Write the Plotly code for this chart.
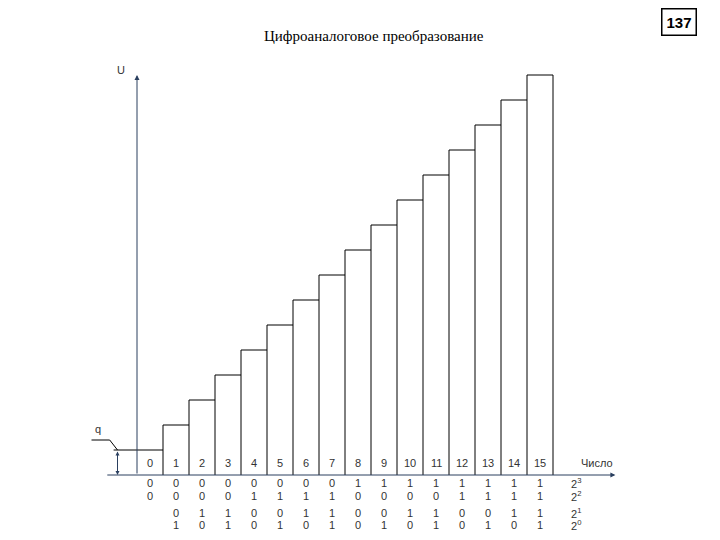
import plotly.graph_objects as go

# DAC: number -> output level (in units of q)
numbers = list(range(16))
levels = [n + 1 for n in numbers]
bits = [[(n >> b) & 1 for b in (3, 2, 1, 0)] for n in numbers]
bit_labels = ["2<sup>3</sup>", "2<sup>2</sup>", "2<sup>1</sup>", "2<sup>0</sup>"]

W, H = 704, 524   # page has an 8px body margin
PX = 26.0   # pixels per column
PY = 25.0   # pixels per q
X0, Y0 = 129, 467

fig = go.Figure()

# staircase: horizontal tops and vertical boundaries
xs, ys = [], []
for n, lv in zip(numbers, levels):
    xs += [n, n + 1, None]
    ys += [lv, lv, None]
for i in range(1, 17):
    left = levels[i - 1]
    right = levels[i] if i < 16 else 0
    xs += [i, i, None]
    ys += [0, max(left, right), None]
fig.add_trace(go.Scatter(x=xs, y=ys, mode="lines", line=dict(color="black", width=1),
                         hoverinfo="skip", showlegend=False))
fig.add_trace(go.Scatter(x=[-0.9, 0], y=[levels[0], levels[0]], mode="lines",
                         line=dict(color="black", width=1), showlegend=False))

# axes with arrows
fig.add_annotation(x=0, y=16.0, ax=0, ay=0, xref="x", yref="y", axref="x", ayref="y",
                   showarrow=True, arrowhead=2, arrowsize=1, arrowwidth=1, text="")
fig.add_annotation(x=18.4, y=0, ax=-1.2, ay=0, xref="x", yref="y", axref="x", ayref="y",
                   showarrow=True, arrowhead=2, arrowsize=1, arrowwidth=1, text="")
# q dimension
fig.add_annotation(x=-0.75, y=0, ax=-0.75, ay=levels[0], xref="x", yref="y", axref="x", ayref="y",
                   showarrow=True, arrowhead=2, arrowside="end+start", arrowsize=0.8,
                   arrowwidth=1, text="")
fig.add_trace(go.Scatter(x=[-1.75, -1.05, -0.75], y=[1.4, 1.4, 1.0], mode="lines",
                         line=dict(color="black", width=1), showlegend=False))

font = dict(family="Arial", size=11, color="#333")
rows = [-0.3, -0.85, -1.5, -2.0]
for n in numbers:
    fig.add_annotation(x=n + 0.5, y=0.5, text=str(n), showarrow=False, font=font)
    for k, yb in enumerate(rows):
        if n == 0 and k >= 2:
            continue
        fig.add_annotation(x=n + 0.5, y=yb, text=str(bits[n][k]), showarrow=False, font=font)
for k, yb in enumerate(rows):
    fig.add_annotation(x=16.9, y=yb, text=bit_labels[k], showarrow=False, font=font)
fig.add_annotation(x=17.7, y=0.5, text="Число", showarrow=False, font=font)
fig.add_annotation(x=-0.6, y=16.2, text="U", showarrow=False, font=font)
fig.add_annotation(x=-1.5, y=1.85, text="q", showarrow=False, font=font)

fig.add_annotation(x=0.52, y=0.965, xref="paper", yref="paper",
                   text="Цифроаналоговое преобразование", showarrow=False,
                   font=dict(family="Liberation Serif", size=15, color="black"))
fig.add_annotation(x=0.978, y=1.0, xref="paper", yref="paper", yanchor="top",
                   text="<b>137</b>", showarrow=False, bordercolor="black", borderwidth=1.5,
                   borderpad=4, font=dict(family="Arial", size=15, color="black"))

fig.update_layout(
    width=W, height=H, margin=dict(l=0, r=0, t=0, b=0),
    plot_bgcolor="white", paper_bgcolor="white",
    xaxis=dict(range=[-X0 / PX, (W - X0) / PX], visible=False),
    yaxis=dict(range=[(Y0 - H) / PY, Y0 / PY], visible=False),
)

fig.write_html("out.html")
